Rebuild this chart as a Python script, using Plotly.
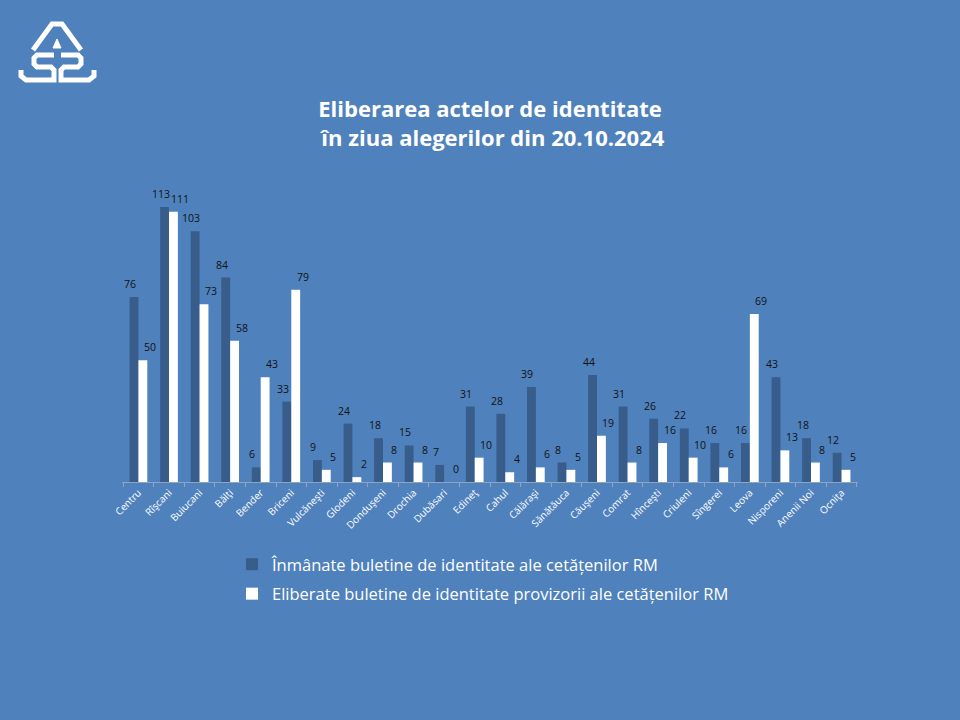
import plotly.graph_objects as go

categories = ["Centru", "Rîşcani", "Buiucani", "Bălţi", "Bender", "Briceni", "Vulcăneşti",
              "Glodeni", "Donduşeni", "Drochia", "Dubăsari", "Edineţ", "Cahul", "Călăraşi",
              "Sănătăuca", "Căuşeni", "Comrat", "Hînceşti", "Criuleni", "Sîngerei", "Leova",
              "Nisporeni", "Anenii Noi", "Ocniţa"]
inmanate = [76, 113, 103, 84, 6, 33, 9, 24, 18, 15, 7, 31, 28, 39, 8, 44, 31, 26, 22, 16, 16, 43, 18, 12]
provizorii = [50, 111, 73, 58, 43, 79, 5, 2, 8, 8, 0, 10, 4, 6, 5, 19, 8, 16, 10, 6, 69, 13, 8, 5]
series_names = ["Înmânate buletine de identitate ale cetățenilor RM",
                "Eliberate buletine de identitate provizorii ale cetățenilor RM"]

BG = "#4F81BD"
DARK = "#385D8A"
FONT = "Open Sans"

W, H = 960, 720
L, R, T, B = 122, 102, 180, 238
PW, PH = W - L - R, H - T - B
BARGAP = 0.42


def px(x, y):
    return (x - L) / PW, (H - B - y) / PH


def path(points, close=False):
    s = ""
    for i, (x, y) in enumerate(points):
        X, Y = px(x, y)
        s += ("M" if i == 0 else "L") + f"{X:.5f},{Y:.5f} "
    if close:
        s += "Z"
    return s


fig = go.Figure()
fig.add_bar(x=categories, y=inmanate, name=series_names[0], marker_color=DARK,
            marker_line_width=0, legendgroup="a")
fig.add_bar(x=categories, y=provizorii, name=series_names[1], marker_color="#FFFFFF",
            marker_line_width=0, legendgroup="b")

# value labels, placed over each bar of the group
half = (1 - BARGAP) / 4
annotations = []
for i, (a, b) in enumerate(zip(inmanate, provizorii)):
    annotations.append(dict(x=i - half, y=a, xref="x", yref="y", text=str(a), showarrow=False,
                            yanchor="bottom", yshift=4, xshift=-4,
                            font=dict(size=10.5, color="#111111", family=FONT)))
    annotations.append(dict(x=i + half, y=b, xref="x", yref="y", text=str(b), showarrow=False,
                            yanchor="bottom", yshift=4, xshift=7,
                            font=dict(size=10.5, color="#111111", family=FONT)))

shapes = []
wline = dict(color="white", width=5)
# logo: arch
shapes.append(dict(type="path", xref="paper", yref="paper",
                   path=path([(33, 50), (52, 24), (62, 24), (81, 50)]), line=wline))
# small triangle
shapes.append(dict(type="path", xref="paper", yref="paper",
                   path=path([(57, 39), (53, 48), (61, 48)], close=True),
                   fillcolor="white", line=dict(color="white", width=1)))
# S
shapes.append(dict(type="path", xref="paper", yref="paper",
                   path=path([(54, 55), (37, 55), (34, 58), (34, 64), (37, 67), (51, 67),
                              (54, 70), (54, 80), (26, 80), (21, 76), (21, 70)]), line=wline))
# 2
shapes.append(dict(type="path", xref="paper", yref="paper",
                   path=path([(61, 55), (78, 55), (81, 58), (81, 64), (78, 67), (64, 67),
                              (61, 70), (61, 80), (89, 80), (94, 76), (94, 70)]), line=wline))

fig.update_layout(
    width=W, height=H,
    paper_bgcolor=BG, plot_bgcolor=BG,
    margin=dict(l=L, r=R, t=T, b=B, pad=0),
    barmode="group", bargap=BARGAP, bargroupgap=0,
    font=dict(family=FONT, color="white"),
    title=dict(text="<b>Eliberarea actelor de identitate<br> în ziua alegerilor din 20.10.2024</b>",
               x=(490) / W, xanchor="center", y=1 - 117 / H, yanchor="top",
               font=dict(size=22, color="white", family=FONT)),
    xaxis=dict(tickangle=-45, tickfont=dict(size=10, color="white", family=FONT),
               showline=True, linecolor="#8EA4C2", linewidth=1,
               ticks="outside", tickson="boundaries", ticklen=4, tickcolor="#8EA4C2",
               showgrid=False, zeroline=False),
    yaxis=dict(range=[0, PH / 2.434], visible=False, showgrid=False, zeroline=False),
    legend=dict(x=px(232, 0)[0], xanchor="left", y=px(0, 547)[1], yanchor="top",
                orientation="v", font=dict(size=16.5, color="white", family=FONT),
                bgcolor="rgba(0,0,0,0)", tracegroupgap=5),
    showlegend=True,
    shapes=shapes,
    annotations=annotations,
)

fig.write_html("out.html")
